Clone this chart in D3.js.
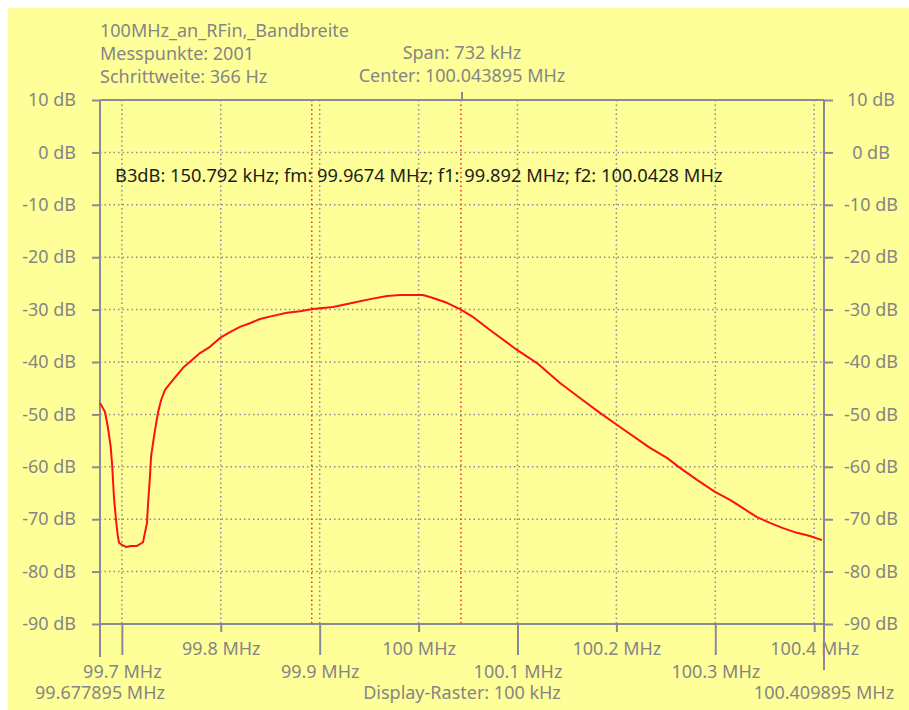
<!DOCTYPE html>
<html lang="de">
<head>
    <meta charset="utf-8">
    <title>100MHz_an_RFin, Bandbreite</title>
    <script src="https://d3js.org/d3.v7.min.js"></script>
    <style>
        body { margin: 0; background: #fff; }
        svg { position: absolute; left: 0; top: 0; }
        text { font-family: "Noto Sans", "Open Sans", sans-serif; font-size: 18px; fill: #858585; }
    </style>
</head>
<body>
<svg width="909" height="710"></svg>
<script>
    var freq = [99.6779, 99.6829, 99.6860, 99.6887, 99.6903, 99.6920, 99.6941, 99.6958, 99.6971, 99.7001,
        99.7042, 99.7092, 99.7153, 99.7214, 99.7254, 99.7264, 99.7285, 99.7295, 99.7315, 99.7335,
        99.7365, 99.7396, 99.7436, 99.7517, 99.7618, 99.7709, 99.7790, 99.7891, 99.7992, 99.8093,
        99.8194, 99.8295, 99.8396, 99.8528, 99.8669, 99.8801, 99.8932, 99.9135, 99.9337, 99.9509,
        99.9681, 99.9812, 99.9943, 100.0044, 100.0146, 100.0287, 100.0418, 100.0550, 100.0722, 100.0995,
        100.1197, 100.1430, 100.1662, 100.1834, 100.2036, 100.2340, 100.2511, 100.2643, 100.2815, 100.2997,
        100.3149, 100.3280, 100.3421, 100.3553, 100.3684, 100.3826, 100.3957, 100.4078];
    var level = [-47.8, -49.5, -52.6, -56.2, -60.0, -65.8, -70.2, -73.0, -74.5, -74.9,
        -75.3, -75.1, -75.1, -74.4, -70.7, -67.3, -61.6, -58.1, -55.5, -53.0,
        -49.7, -47.3, -45.3, -43.4, -41.1, -39.6, -38.3, -37.1, -35.4, -34.3,
        -33.3, -32.6, -31.8, -31.2, -30.6, -30.3, -29.9, -29.5, -28.7, -28.0,
        -27.4, -27.2, -27.2, -27.2, -27.8, -28.7, -29.9, -31.4, -33.9, -37.7,
        -40.2, -44.0, -47.3, -49.7, -52.4, -56.4, -58.3, -60.2, -62.5, -64.8,
        -66.3, -67.9, -69.6, -70.7, -71.7, -72.6, -73.2, -74.0];

    var fStart = 99.677895, fStop = 100.409895;
    var dbTicks = [10, 0, -10, -20, -30, -40, -50, -60, -70, -80, -90];
    var freqTicks = [99.7, 99.8, 99.9, 100.0, 100.1, 100.2, 100.3, 100.4];
    var freqLabels = ["99.7 MHz", "99.8 MHz", "99.9 MHz", "100 MHz", "100.1 MHz", "100.2 MHz", "100.3 MHz", "100.4 MHz"];
    var markers = [99.892, 100.0428];
    var header = ["100MHz_an_RFin,_Bandbreite", "Messpunkte: 2001", "Schrittweite: 366 Hz"];
    var headerMid = ["Span: 732 kHz", "Center: 100.043895 MHz"];
    var info = "B3dB: 150.792 kHz; fm: 99.9674 MHz; f1: 99.892 MHz; f2: 100.0428 MHz";

    var axisColor = "#8a8a96";
    var gridColor = "#8a8a9a";

    var x = d3.scaleLinear().domain([fStart, fStop]).range([100, 824]);
    var y = d3.scaleLinear().domain([10, -90]).range([100, 624]);

    var svg = d3.select("svg");
    svg.append("rect").attr("x", 8).attr("y", 8).attr("width", 901).attr("height", 702).attr("fill", "#ffff99");

    // Raster
    var grid = svg.append("g").attr("stroke", gridColor).attr("stroke-width", 1.5).attr("stroke-dasharray", "1.5,3");
    grid.selectAll(".gx").data(freqTicks).enter().append("line")
        .attr("x1", function(d){ return x(d); }).attr("x2", function(d){ return x(d); })
        .attr("y1", y(10)).attr("y2", y(-90));
    grid.selectAll(".gy").data(dbTicks.slice(1, -1)).enter().append("line")
        .attr("x1", x(fStart)).attr("x2", x(fStop))
        .attr("y1", function(d){ return y(d); }).attr("y2", function(d){ return y(d); });

    // Marker f1, f2
    svg.selectAll(".marker").data(markers).enter().append("line")
        .attr("x1", function(d){ return x(d); }).attr("x2", function(d){ return x(d); })
        .attr("y1", y(10)).attr("y2", y(-90))
        .attr("stroke", "#ff2020").attr("stroke-width", 1.5).attr("stroke-dasharray", "1.5,3");

    // Achsen
    var leftAxis = svg.append("g").attr("transform", "translate(" + x(fStart) + ",0)")
        .call(d3.axisLeft(y).tickValues(dbTicks).tickSize(8).tickPadding(16).tickFormat(function(d){ return d + " dB"; }));
    var rightAxis = svg.append("g").attr("transform", "translate(" + x(fStop) + ",0)")
        .call(d3.axisRight(y).tickValues(dbTicks).tickSize(9).tickPadding(0).tickFormat(function(d){ return d + " dB"; }));
    rightAxis.selectAll("text").attr("x", 47).attr("text-anchor", "middle");

    var bottomAxis = svg.append("g").attr("transform", "translate(0," + y(-90) + ")")
        .call(d3.axisBottom(x).tickValues(freqTicks).tickSize(8).tickFormat(function(d, i){ return freqLabels[i]; }));
    bottomAxis.selectAll(".tick line").attr("y2", function(d, i){ return i % 2 == 0 ? 31 : 8; });
    bottomAxis.selectAll(".tick text").attr("y", function(d, i){ return i % 2 == 0 ? 47.5 : 25; }).attr("dy", "0.35em");

    [leftAxis, rightAxis, bottomAxis].forEach(function(a){
        a.select(".domain").remove();
        a.selectAll("line").attr("stroke", axisColor).attr("stroke-width", 2);
        a.selectAll("text").attr("fill", "#858585").style("font-size", "18px").style("font-family", null);
    });

    // Rahmen
    var frame = svg.append("g").attr("stroke", axisColor).attr("stroke-width", 2);
    frame.append("line").attr("x1", x(fStart)).attr("x2", x(fStop)).attr("y1", y(10)).attr("y2", y(10));
    frame.append("line").attr("x1", x(fStart)).attr("x2", x(fStop)).attr("y1", y(-90)).attr("y2", y(-90));
    frame.append("line").attr("x1", x(fStart)).attr("x2", x(fStart)).attr("y1", y(10)).attr("y2", y(-90) + 33);
    frame.append("line").attr("x1", x(fStop)).attr("x2", x(fStop)).attr("y1", y(10)).attr("y2", y(-90) + 46);
    var fCenter = (fStart + fStop) / 2;
    frame.append("line").attr("x1", x(fCenter)).attr("x2", x(fCenter)).attr("y1", y(10) - 8).attr("y2", y(10));

    // Kurve
    var line = d3.line()
        .x(function(d, i){ return x(freq[i]); })
        .y(function(d){ return y(d); });
    svg.append("path").datum(level)
        .attr("d", line)
        .attr("fill", "none")
        .attr("stroke", "#ff1010")
        .attr("stroke-width", 2)
        .attr("stroke-linejoin", "round");

    // Texte
    svg.selectAll(".head").data(header).enter().append("text")
        .attr("x", 100).attr("y", function(d, i){ return 30.5 + i * 23; }).attr("dy", "0.35em")
        .text(function(d){ return d; });
    svg.selectAll(".headmid").data(headerMid).enter().append("text")
        .attr("x", x(fCenter)).attr("y", function(d, i){ return 53 + i * 23; }).attr("dy", "0.35em")
        .attr("text-anchor", "middle")
        .text(function(d){ return d; });

    svg.append("text").attr("x", 115).attr("y", 175.5).attr("dy", "0.35em")
        .style("fill", "#1e1e1e").style("font-size", "18.3px").text(info);

    var footer = [[fStart, "99.677895 MHz"], [fCenter, "Display-Raster: 100 kHz"], [fStop, "100.409895 MHz"]];
    svg.selectAll(".foot").data(footer).enter().append("text")
        .attr("x", function(d){ return x(d[0]); }).attr("y", 693).attr("dy", "0.35em")
        .attr("text-anchor", "middle")
        .text(function(d){ return d[1]; });
</script>
</body>
</html>
